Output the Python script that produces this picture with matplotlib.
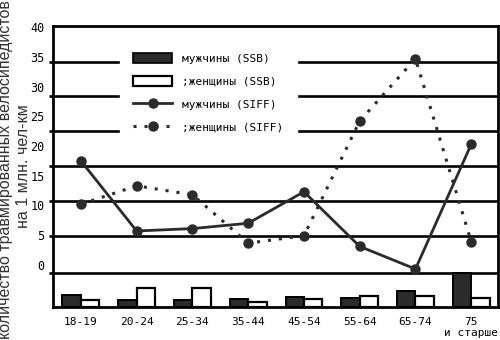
import numpy as np
import matplotlib
matplotlib.use('Agg')
import matplotlib.pyplot as plt
from matplotlib.patches import Patch
from matplotlib.lines import Line2D

categories = ['18-19', '20-24', '25-34', '35-44', '45-54', '55-64', '65-74', '75\nи старше']
men_siff = [17.5, 5.7, 6.1, 7.0, 12.3, 3.1, -0.7, 20.3]
women_siff = [10.2, 13.3, 11.8, 3.65, 4.9, 24.2, 34.7, 3.9]
men_ssb = [2.0, 1.2, 1.2, 1.35, 1.7, 1.5, 2.7, 5.8]
women_ssb = [1.2, 3.15, 3.15, 0.8, 1.3, 1.85, 1.85, 1.6]
y_ticks = [0, 5, 10, 15, 20, 25, 30, 35, 40]
legend_labels = ['мужчины (SSB)', ';женщины (SSB)', 'мужчины (SIFF)', ';женщины (SIFF)']

# horizontal rules are not aligned to the tick labels in the source
GRID_Y = [-1.35, 4.9, 10.8, 16.7, 22.6, 28.5, 34.2]
Y_MIN, Y_MAX = -7.1, 40.2
MONO = 'DejaVu Sans Mono'
SANS = 'Liberation Sans'
DARK = '#2b2b2b'

fig = plt.figure(figsize=(5, 3.4), dpi=100)
ax = fig.add_axes([0.106, 0.097, 0.89, 0.8265])

x = np.arange(len(categories))
w = 0.33

for g in GRID_Y:
    ax.axhline(g, color='black', lw=1.9, zorder=1)

ax.bar(x - w / 2, men_ssb, width=w, bottom=Y_MIN, color=DARK, edgecolor='black', lw=1.4, zorder=3)
ax.bar(x + w / 2, women_ssb, width=w, bottom=Y_MIN, color='white', edgecolor='black', lw=1.6, zorder=3)

ax.plot(x, women_siff, color=DARK, lw=2.2, ls=(0, (1, 2.6)), marker='o', ms=6.5, zorder=4)
ax.plot(x, men_siff, color=DARK, lw=2.0, marker='o', ms=6.5, zorder=5)

ax.set_xlim(-0.5, 7.48)
ax.set_ylim(Y_MIN, Y_MAX)
ax.set_xticks(x)
ax.set_xticklabels(categories, fontfamily=MONO, fontsize=8)
ax.set_yticks(y_ticks)
ax.set_yticklabels([str(v) for v in y_ticks], fontfamily=MONO, fontsize=8.5)
ax.set_yticks(GRID_Y, minor=True)
ax.tick_params(axis='x', length=0, pad=7)
ax.tick_params(axis='y', which='major', length=0, pad=6)
ax.tick_params(axis='y', which='minor', length=3, width=1.9, direction='out')
for s in ax.spines.values():
    s.set_linewidth(2.0)

handles = [
    Patch(facecolor=DARK, edgecolor='black', lw=1.2),
    Patch(facecolor='white', edgecolor='black', lw=1.6),
    Line2D([], [], color=DARK, lw=2.0, marker='o', ms=6.5),
    Line2D([], [], color=DARK, lw=2.2, ls=(0, (1, 2.6)), marker='o', ms=6.5),
]
leg = ax.legend(handles, legend_labels, loc='upper left', bbox_to_anchor=(0.15, 0.95),
                borderaxespad=0, borderpad=1.2, handlelength=3.5, handleheight=1.0,
                handletextpad=0.9, labelspacing=1.07, frameon=True, fancybox=False,
                prop={'family': MONO, 'size': 8})
leg.get_frame().set_edgecolor('white')
leg.get_frame().set_facecolor('white')
leg.get_frame().set_alpha(1)
leg.set_zorder(6)

fig.text(0.012, 0.5, 'количество травмированных велосипедистов', rotation=90,
         ha='center', va='center', fontsize=11.5, fontfamily=SANS, color='#333333')
fig.text(0.048, 0.512, 'на 1 млн. чел-км', rotation=90,
         ha='center', va='center', fontsize=11.5, fontfamily=SANS, color='#333333')

fig.savefig('out.png', dpi=100)
